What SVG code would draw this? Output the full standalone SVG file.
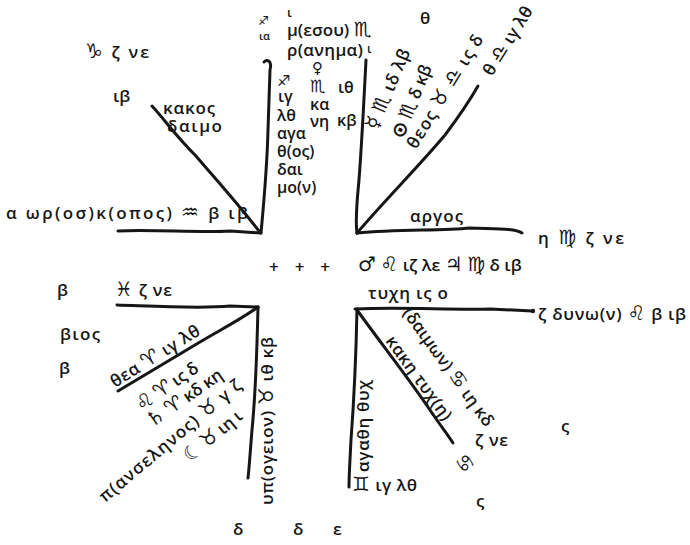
<svg xmlns="http://www.w3.org/2000/svg" width="690" height="545" viewBox="0 0 690 545">
<style>
text{font-family:'Open Sans','DejaVu Sans',sans-serif;font-size:17px;fill:#161616;font-weight:600}
.g{font-family:'DejaVu Sans',sans-serif;font-size:20px;font-weight:700}
.c{font-size:16px}
.s{font-size:11px}
.conn{fill:none;stroke:#161616;stroke-width:3;stroke-linecap:round;stroke-linejoin:round}
</style>
<rect width="690" height="545" fill="#fff"/>
<g id="connectors" class="conn">
<path d="M152,106 C165,120 175,135 195,155 C215,178 235,200 259,231"/>
<path d="M118,231 C150,229 200,233 230,231 L261,233"/>
<path d="M264,62 C268,58 272,62 270,70 L268,130 C267,170 264,200 261,233"/>
<path d="M366,60 C364,100 362,140 359,180 C357,200 355,220 357,233"/>
<path d="M357,233 C385,200 420,165 445,135 C460,115 470,100 478,86"/>
<path d="M357,233 C400,229 440,231 470,228 C495,229 515,228 522,233"/>
<path d="M117,305 C150,306 200,309 230,306 L258,307"/>
<path d="M258,307 C240,320 220,330 200,342 C170,360 140,378 118,391"/>
<path d="M258,307 C257,350 255,400 252,430 C250,455 249,470 248,478"/>
<path d="M357,309 C356,360 354,400 351,440 C350,460 349,475 349,487"/>
<path d="M355,309 C400,307 450,310 490,309 L532,311"/>
<path d="M357,310 C380,342 410,380 430,410 C440,425 448,435 453,443"/>
<circle cx="533" cy="311" r="2.2" fill="#161616" stroke="none"/>
</g>
<g id="n-tl">
<text x="85" y="58" textLength="64"><tspan class="g">♑</tspan> ζ νε</text>
<text x="113" y="102">ιβ</text>
<text x="163" y="114" textLength="52">κακος</text>
<text x="167" y="132" textLength="55">δαιμο</text>
<text x="6" y="219" textLength="242">α ωρ(οσ)κ(οπος) <tspan class="g">♒</tspan> β ιβ</text>
</g>
<g id="n-tm">
<text class="s" x="258" y="25"><tspan class="g" style="font-size:12px">♐</tspan></text>
<text class="s" x="259" y="40">ια</text>
<text x="287" y="17" style="font-size:13px">ι</text>
<text x="287" y="36">μ(εσου) <tspan class="g">♏</tspan></text>
<text x="287" y="56" textLength="76">ρ(ανημα)</text>
<text x="367" y="53" style="font-size:12px">ι</text>
<text x="312" y="73"><tspan class="g" style="font-size:15px">♀</tspan></text>
<text class="c" x="310" y="92"><tspan class="g" style="font-size:17px">♏</tspan></text>
<text class="c" x="338" y="93">ιθ</text>
<text class="c" x="310" y="110">κα</text>
<text class="c" x="310" y="127">νη</text>
<text class="c" x="337" y="126">κβ</text>
<text class="c" x="277" y="86"><tspan class="g" style="font-size:15px">♐</tspan></text>
<text class="c" x="278" y="102">ιγ</text>
<text class="c" x="277" y="121">λθ</text>
<text class="c" x="277" y="139">αγα</text>
<text class="c" x="277" y="157">θ(ος)</text>
<text class="c" x="277" y="175">δαι</text>
<text class="c" x="277" y="193">μο(ν)</text>
</g>
<g id="n-tr">
<text x="420" y="24">θ</text>
<text transform="translate(377,131) rotate(-67)" textLength="86"><tspan class="g">☿</tspan> <tspan class="g">♏</tspan> ιδ λβ</text>
<text transform="translate(403,140) rotate(-68)" textLength="78"><tspan class="g">⊙</tspan> <tspan class="g">♏</tspan> δ κβ</text>
<text transform="translate(416,150) rotate(-58.5)" textLength="130">θεος <tspan class="g">♉</tspan> <tspan class="g">♎</tspan> ις δ</text>
<text transform="translate(492,77) rotate(-58)" textLength="78">θ <tspan class="g">♎</tspan> ιγ λθ</text>
<text x="410" y="222" textLength="53">αργος</text>
<text x="538" y="244" textLength="86">η <tspan class="g">♍</tspan> ζ νε</text>
</g>
<g id="n-mid">
<text x="269" y="273" textLength="61">+ + +</text>
<text x="358" y="271"><tspan class="g">♂</tspan> <tspan class="g">♌</tspan> ιζ λε <tspan class="g">♃</tspan> <tspan class="g">♍</tspan> δ ιβ</text>
</g>
<g id="n-bl">
<text x="57" y="296">β</text>
<text x="115" y="296" textLength="57"><tspan class="g">♓</tspan> ζ νε</text>
<text x="60" y="340" textLength="40">βιος</text>
<text x="59" y="374">β</text>
<text transform="translate(115,388) rotate(-32)" textLength="102">θεα <tspan class="g">♈</tspan> ιγ λθ</text>
<text transform="translate(141,412) rotate(-35)" textLength="72"><tspan class="g">♌</tspan> <tspan class="g">♈</tspan> ις δ</text>
<text transform="translate(152,428) rotate(-35)" textLength="88"><tspan class="g">♄</tspan> <tspan class="g">♈</tspan> κδ κη</text>
<text transform="translate(105,503) rotate(-40)" textLength="180">π(ανσεληνος) <tspan class="g">♉</tspan> γ ζ</text>
<text transform="translate(190,463) rotate(-40)" textLength="70"><tspan class="g">☾</tspan> <tspan class="g">♉</tspan> ιη ι</text>
<text transform="translate(273,505) rotate(-90)" textLength="168">υπ(ογειον) <tspan class="g">♉</tspan> ιθ κβ</text>
</g>
<g id="n-br">
<text x="368" y="299" textLength="80">τυχη ις ο</text>
<text x="538" y="320" textLength="148">ζ δυνω(ν) <tspan class="g">♌</tspan> β ιβ</text>
<text transform="translate(369,472) rotate(-90)" textLength="92">αγαθη θυχ</text>
<text transform="translate(385,341) rotate(54)" textLength="100">κακη τυχ(η)</text>
<text transform="translate(402,313) rotate(54)" textLength="142">(δαιμων) <tspan class="g">♋</tspan> ιη κδ</text>
<text transform="translate(454,460) rotate(54)"><tspan class="g">♋</tspan></text>
<text x="475" y="446" textLength="33">ζ νε</text>
<text x="561" y="432">ς</text>
<text x="476" y="507">ς</text>
<text x="352" y="491" textLength="65"><tspan class="g">♊</tspan> ιγ λθ</text>
</g>
<g id="n-bottom">
<text x="233" y="535">δ</text>
<text x="293" y="535">δ</text>
<text x="333" y="535">ε</text>
</g>
</svg>
